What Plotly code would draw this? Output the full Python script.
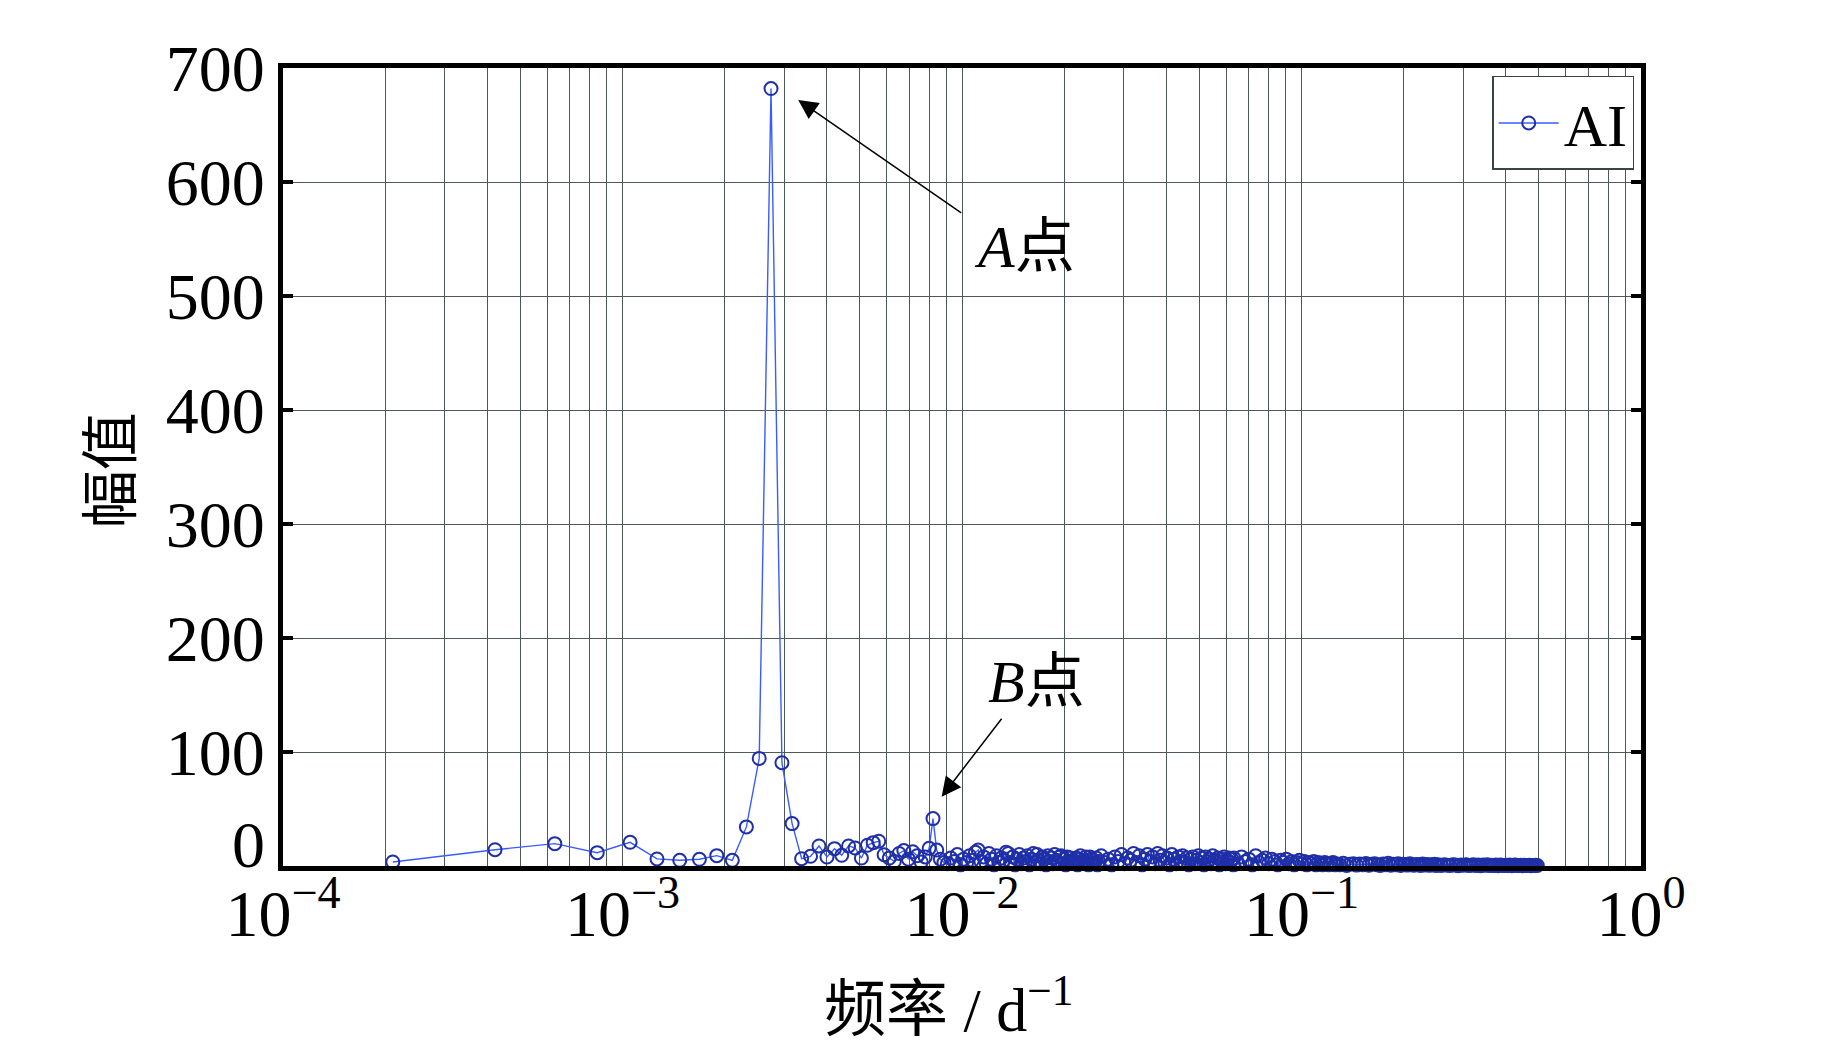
import numpy as np
import plotly.graph_objects as go

# record length in days -> frequency resolution of the spectrum
N_DAYS = 4748

# spectrum amplitudes, bins 1..42 read one by one
low_bins = list(range(1, 43))
low_amp = [
    3.5, 14.3, 19.6, 11.7, 20.8, 6.2, 5.0, 5.9, 9.1, 5.0,
    34.3, 94.4, 682, 90.6, 37.2, 6.4, 8.5, 17.6, 7.9, 15.2,
    9.4, 17.6, 15.8, 7.0, 18.2, 20.5, 21.7, 9.9, 7.0, 4.0,
    11.0, 13.5, 6.0, 12.5, 9.0, 3.5, 8.0, 15.5, 41.6, 14.0,
    6.0, 3.0,
]

# dense tail: selected bins and their (estimated) amplitudes
tail_bins = (
    list(range(43, 121))
    + list(range(122, 300, 3))
    + list(range(300, 600, 8))
    + list(range(600, 1200, 15))
    + list(range(1200, 2375, 25))
)
tail_amp = [
    # 43..120
    2, 7, 4, 10, 1, 6, 3, 9, 5, 12,
    14, 4, 8, 2, 11, 6, 1, 9, 3, 7,
    5, 12, 11, 3, 8, 1, 6, 10, 2, 7,
    4, 9, 1, 6, 11, 3, 10, 5, 2, 8,
    6, 1, 9, 4, 7, 2, 10, 5, 3, 8,
    9, 2, 6, 1, 8, 4, 7, 3, 5, 2,
    7, 1, 6, 9, 3, 5, 2, 8, 4, 1,
    8, 6, 2, 5, 3, 7, 1, 4,
    # 122..299
    9, 3, 6, 1, 8, 4, 10, 2, 7, 5,
    11, 3, 9, 1, 6, 10, 4, 8, 2, 11,
    5, 9, 3, 7, 1, 10, 6, 2, 8, 4,
    9, 3, 7, 1, 6, 8, 2, 5, 9, 3,
    7, 1, 8, 4, 6, 2, 9, 5, 3, 7,
    1, 6, 4, 8, 2, 5, 7, 3, 6, 1,
    # 300..596
    7, 2, 8, 4, 6, 1, 9, 3, 5, 7,
    2, 6, 4, 1, 5, 3, 6, 2, 4, 1,
    3, 5, 2, 4, 1, 3, 2, 4, 1, 3,
    2, 1, 3, 2, 1, 2, 3, 1,
    # 600..1185
    2, 1, 2.5, 0.5, 1.5, 2, 0.8, 1.8, 1, 2.2,
    0.6, 1.5, 2, 1, 0.5, 1.8, 1.2, 2.4, 0.7, 1.5,
    1, 2, 0.5, 1.6, 1.2, 0.8, 1.9, 1, 0.6, 1.4,
    1.1, 0.5, 1.7, 0.9, 1.3, 0.6, 1.2, 0.8, 1.5, 0.4,
    # 1200..2350
    1, 0.5, 1.2, 0.7, 0.4, 1, 0.8, 0.3, 0.9, 0.6,
    1.1, 0.4, 0.7, 1, 0.5, 0.8, 0.3, 0.9, 0.6, 1,
    0.4, 0.7, 0.5, 0.9, 0.3, 0.8, 0.6, 0.4, 0.7, 0.5,
    0.9, 0.3, 0.6, 0.8, 0.4, 0.5, 0.7, 0.3, 0.6, 0.5,
    0.4, 0.6, 0.3, 0.5, 0.4, 0.6, 0.5,
]
assert len(tail_bins) == len(tail_amp)

x_major = [1e-4, 1e-3, 1e-2, 1e-1, 1]
x_major_text = ["10<sup>−4</sup>", "10<sup>−3</sup>", "10<sup>−2</sup>",
                "10<sup>−1</sup>", "10<sup>0</sup>"]
y_ticks = [0, 100, 200, 300, 400, 500, 600, 700]

freq = np.array(low_bins + tail_bins) / N_DAYS
amp = np.array(low_amp + tail_amp)

# minor grid at 2..9 x 10^n
x_minor = [dec * m for dec in x_major[:-1] for m in range(2, 10)]

# the "0" label sits a little above the axis, drawn separately below
y_text = [""] + [str(v) for v in y_ticks[1:]]

SERIF = "Liberation Serif, Noto Sans CJK SC"
CJK = "Noto Sans CJK SC"
GRID = "#4f5858"

fig = go.Figure()
fig.add_trace(
    go.Scatter(
        x=freq,
        y=amp,
        name="AI",
        mode="lines+markers",
        line=dict(color="#3a5cff", width=1.4),
        marker=dict(symbol="circle-open", size=13, color="#1f2fa8",
                    line=dict(width=2, color="#1f2fa8")),
        cliponaxis=False,
    )
)

fig.update_xaxes(
    type="log",
    range=[-4, 0],
    tickmode="array",
    tickvals=x_major,
    ticktext=x_major_text,
    ticks="",
    ticklabelstandoff=-14,
    tickfont=dict(family=SERIF, size=66, color="black"),
    showgrid=True,
    gridcolor=GRID,
    gridwidth=1.2,
    minor=dict(tickmode="array", tickvals=x_minor, ticks="",
               showgrid=True, gridcolor=GRID, gridwidth=1.2),
    showline=True,
    linecolor="black",
    linewidth=5,
    mirror=True,
    zeroline=False,
)
fig.update_yaxes(
    range=[0, 700],
    tickmode="array",
    tickvals=y_ticks,
    ticktext=y_text,
    ticks="inside",
    ticklen=10,
    tickwidth=4,
    tickcolor="black",
    tickfont=dict(family=SERIF, size=66, color="black"),
    showgrid=True,
    gridcolor="#4d5a5a",
    gridwidth=1.2,
    showline=True,
    linecolor="black",
    linewidth=5,
    mirror="ticks",
    zeroline=False,
)

# page body adds an 8 px offset, so the figure is 8 px smaller
fig.update_layout(
    width=1835,
    height=1055,
    margin=dict(l=275, r=202, t=60, b=197, pad=0),
    plot_bgcolor="white",
    paper_bgcolor="white",
    showlegend=True,
    legend=dict(
        x=0.995,
        y=0.99,
        xanchor="right",
        yanchor="top",
        bgcolor="white",
        bordercolor="#3a4444",
        borderwidth=1.5,
        font=dict(family=SERIF, size=60, color="black"),
        itemwidth=60,
    ),
    annotations=[
        dict(text=str(y_ticks[0]), xref="paper", yref="y", x=-0.012, y=y_ticks[0],
             xanchor="right", yanchor="middle", yshift=22, showarrow=False,
             font=dict(family=SERIF, size=66, color="black")),
        dict(text="幅值", xref="paper", yref="paper", x=-0.1303, y=0.496,
             xanchor="center", yanchor="middle",
             textangle=-90, showarrow=False,
             font=dict(family=CJK, size=58, color="black")),
        dict(text="频率 / d<sup>−1</sup>", xref="paper", yref="paper",
             x=0.4904, y=-0.174, xanchor="center", yanchor="middle",
             showarrow=False,
             font=dict(family=SERIF, size=62, color="black")),
        dict(text="<i>A</i>点", xref="paper", yref="paper", x=0.5457, y=0.7757,
             xanchor="center", yanchor="middle",
             showarrow=False, font=dict(family=SERIF, size=60, color="black")),
        dict(text="<i>B</i>点", xref="paper", yref="paper", x=0.5545, y=0.2306,
             xanchor="center", yanchor="middle",
             showarrow=False, font=dict(family=SERIF, size=60, color="black")),
        dict(text=" ", x=-2.4824, y=672, xref="x", yref="y", ax=166, ay=115,
             showarrow=True, arrowhead=2, arrowsize=2.6, arrowwidth=1.5,
             arrowcolor="black"),
        dict(text=" ", x=-2.06, y=60.7, xref="x", yref="y", ax=63, ay=-82,
             showarrow=True, arrowhead=2, arrowsize=2.6, arrowwidth=1.5,
             arrowcolor="black"),
    ],
)

fig.write_html("out.html")
